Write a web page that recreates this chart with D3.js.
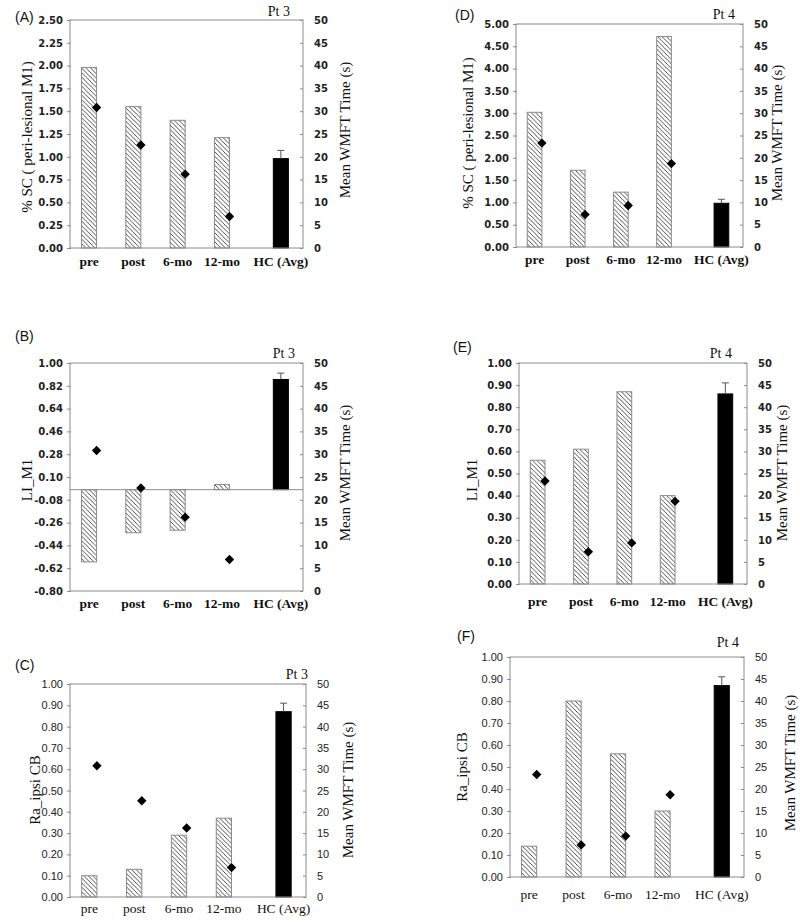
<!DOCTYPE html>
<html>
<head>
<meta charset="utf-8">
<script src="https://cdn.jsdelivr.net/npm/d3@7"></script>
<style>
  html, body { margin: 0; padding: 0; background: #fff; }
  svg { display: block; }
</style>
</head>
<body>
<svg id="chart" width="800" height="924"></svg>
<script>
// ---------------- DATA ----------------
const categories = ["pre", "post", "6-mo", "12-mo", "HC (Avg)"];

// Mean WMFT time (s) per patient (diamonds, right axis)
const wmftPt3 = [30.8, 22.6, 16.2, 6.9];
const wmftPt4 = [23.3, 7.3, 9.3, 18.7];

// Bar values (pre, post, 6-mo, 12-mo, HC avg)
const scPt3 = [1.98, 1.55, 1.40, 1.21, 0.98];
const scPt4 = [3.02, 1.72, 1.23, 4.72, 0.98];
const liPt3 = [-0.57, -0.34, -0.32, 0.04, 0.87];
const liPt4 = [0.56, 0.61, 0.87, 0.40, 0.86];
const raPt3 = [0.10, 0.13, 0.29, 0.37, 0.87];
const raPt4 = [0.14, 0.80, 0.56, 0.30, 0.87];

// HC (Avg) error bar (+SD) for each measure
const hcErrSC = 0.09;
const hcErrLI = 0.05;
const hcErrRa = 0.04;

// Tick labels
const ticksSC3 = ["0.00","0.25","0.50","0.75","1.00","1.25","1.50","1.75","2.00","2.25","2.50"];
const ticksSC4 = ["0.00","0.50","1.00","1.50","2.00","2.50","3.00","3.50","4.00","4.50","5.00"];
const ticksLI3 = ["-0.80","-0.62","-0.44","-0.26","-0.08","0.10","0.28","0.46","0.64","0.82","1.00"];
const ticksUnit = ["0.00","0.10","0.20","0.30","0.40","0.50","0.60","0.70","0.80","0.90","1.00"];
const ticksWMFT = [0, 5, 10, 15, 20, 25, 30, 35, 40, 45, 50];

// ---------------- PANELS (layout) ----------------
const panels = [
  { letter: "(A)", pt: "Pt 3", bars: scPt3, wmft: wmftPt3, err: hcErrSC, ticks: ticksSC3, dom: [0, 2.5],
    ylab: "% SC ( peri-lesional M1)", left: 70, right: 303, top: 20, bottom: 248,
    letterPos: [15, 22], ptPos: [290, 16], ylabPos: [27, 137], rlabPos: [345, 130], xlabY: 266, narrow: false },
  { letter: "(D)", pt: "Pt 4", bars: scPt4, wmft: wmftPt4, err: hcErrSC, ticks: ticksSC4, dom: [0, 5],
    ylab: "% SC ( peri-lesional M1)", left: 516, right: 743, top: 24, bottom: 247,
    letterPos: [455, 20], ptPos: [735, 19], ylabPos: [468, 133], rlabPos: [777, 133], xlabY: 264, narrow: false },
  { letter: "(B)", pt: "Pt 3", bars: liPt3, wmft: wmftPt3, err: hcErrLI, ticks: ticksLI3, dom: [-0.8, 1.0],
    ylab: "LI_M1", left: 70, right: 303, top: 363, bottom: 591,
    letterPos: [15, 341], ptPos: [295, 358], ylabPos: [27, 480], rlabPos: [345, 473], xlabY: 608, narrow: false, zeroLine: true },
  { letter: "(E)", pt: "Pt 4", bars: liPt4, wmft: wmftPt4, err: hcErrLI, ticks: ticksUnit, dom: [0, 1],
    ylab: "LI_M1", left: 519, right: 747, top: 363, bottom: 584,
    letterPos: [453, 352], ptPos: [732, 358], ylabPos: [472, 480], rlabPos: [782, 473], xlabY: 606, narrow: false },
  { letter: "(C)", pt: "Pt 3", bars: raPt3, wmft: wmftPt3, err: hcErrRa, ticks: ticksUnit, dom: [0, 1],
    ylab: "Ra_ipsi CB", left: 70, right: 306, top: 684, bottom: 897,
    letterPos: [15, 670], ptPos: [308, 679], ylabPos: [35, 790], rlabPos: [348, 790], xlabY: 913, narrow: true },
  { letter: "(F)", pt: "Pt 4", bars: raPt4, wmft: wmftPt4, err: hcErrRa, ticks: ticksUnit, dom: [0, 1],
    ylab: "Ra_ipsi CB", left: 510, right: 744, top: 657, bottom: 877,
    letterPos: [457, 641], ptPos: [739, 647], ylabPos: [462, 767], rlabPos: [790, 763], xlabY: 899, narrow: true }
];

// slot positions along x (HC group set apart)
const slotIndex = [0, 1, 2, 3, 4.33];
const xDomain = [-0.43, 4.83];
const barFrac = 0.34;

const svg = d3.select("#chart");
const defs = svg.append("defs");
const pat = defs.append("pattern")
  .attr("id", "hatch").attr("patternUnits", "userSpaceOnUse")
  .attr("width", 4.5).attr("height", 4.5);
pat.append("rect").attr("width", 4.5).attr("height", 4.5).attr("fill", "#fff");
pat.append("path")
  .attr("d", "M-1,-1 L5.5,5.5 M-1,3.5 L1,5.5 M3.5,-1 L5.5,1")
  .attr("stroke", "#3a3a3a").attr("stroke-width", 0.9);

const frameColor = "#8c8c8c";
const serif = "'Liberation Serif', 'Times New Roman', serif";

panels.forEach(p => {
  const g = svg.append("g");
  const x = d3.scaleLinear().domain(xDomain).range([p.left, p.right]);
  const step = x(1) - x(0);
  const bw = step * barFrac;
  const y = d3.scaleLinear().domain(p.dom).range([p.bottom, p.top]);
  const y2 = d3.scaleLinear().domain([0, 50]).range([p.bottom, p.top]);
  const base = p.dom[0] < 0 ? 0 : p.dom[0];

  const tickFont = p.narrow ? "'Liberation Sans Narrow', 'Arial Narrow', sans-serif" : "'DejaVu Sans', Verdana, sans-serif";
  const tickSize = p.narrow ? 11 : 10;
  const tickWeight = p.narrow ? "normal" : "bold";

  // bars
  const barData = p.bars.map((v, i) => ({ v, i, cat: categories[i] }));
  g.selectAll("rect.bar").data(barData).join("rect")
    .attr("class", "bar")
    .attr("x", d => x(slotIndex[d.i]) - bw / 2)
    .attr("width", bw)
    .attr("y", d => y(Math.max(d.v, base)))
    .attr("height", d => Math.abs(y(d.v) - y(base)))
    .attr("fill", d => d.i === 4 ? "#000" : "url(#hatch)")
    .attr("stroke", d => d.i === 4 ? "#000" : "#8a8a8a")
    .attr("stroke-width", 1);

  // error bar on HC
  const hc = p.bars[4];
  const cx = x(slotIndex[4]);
  g.append("line").attr("x1", cx).attr("x2", cx)
    .attr("y1", y(hc)).attr("y2", y(hc + p.err))
    .attr("stroke", "#555").attr("stroke-width", 1);
  g.append("line").attr("x1", cx - 3.5).attr("x2", cx + 3.5)
    .attr("y1", y(hc + p.err)).attr("y2", y(hc + p.err))
    .attr("stroke", "#555").attr("stroke-width", 1);

  // frame
  g.append("rect").attr("x", p.left).attr("y", p.top)
    .attr("width", p.right - p.left).attr("height", p.bottom - p.top)
    .attr("fill", "none").attr("stroke", frameColor).attr("stroke-width", 1);
  if (p.zeroLine) {
    g.append("line").attr("x1", p.left).attr("x2", p.right)
      .attr("y1", y(0)).attr("y2", y(0))
      .attr("stroke", frameColor).attr("stroke-width", 1);
  }

  // left axis
  const leftAxis = d3.axisLeft(y)
    .tickValues(p.ticks.map(Number))
    .tickFormat((d, i) => p.ticks[i])
    .tickSizeInner(3).tickSizeOuter(0).tickPadding(4);
  const la = g.append("g").attr("transform", `translate(${p.left},0)`).call(leftAxis);
  la.select(".domain").remove();
  la.selectAll("line").attr("stroke", frameColor).attr("x2", -3).attr("x1", 1);
  la.selectAll("text").attr("font-family", tickFont).attr("font-size", tickSize)
    .attr("font-weight", tickWeight).attr("fill", "#222");

  // right axis
  const rightAxis = d3.axisRight(y2).tickValues(ticksWMFT)
    .tickSizeInner(-3).tickSizeOuter(0).tickPadding(11);
  const ra = g.append("g").attr("transform", `translate(${p.right},0)`).call(rightAxis);
  ra.select(".domain").remove();
  ra.selectAll("line").attr("stroke", frameColor);
  ra.selectAll("text").attr("font-family", tickFont).attr("font-size", tickSize)
    .attr("font-weight", tickWeight).attr("fill", "#222");

  // diamonds
  g.selectAll("path.dia").data(p.wmft).join("path")
    .attr("class", "dia")
    .attr("d", d3.symbol(d3.symbolSquare, 44)())
    .attr("transform", (d, i) => `translate(${x(slotIndex[i]) + bw / 2},${y2(d)}) rotate(45)`)
    .attr("fill", "#000");

  // category labels
  g.selectAll("text.cat").data(categories).join("text")
    .attr("class", "cat")
    .attr("x", (d, i) => x(slotIndex[i]))
    .attr("y", p.xlabY)
    .attr("text-anchor", "middle")
    .attr("font-family", serif).attr("font-size", 13.5).attr("font-weight", p.narrow ? "normal" : "bold")
    .attr("fill", "#111")
    .text(d => d);

  // panel letter
  g.append("text").attr("x", p.letterPos[0]).attr("y", p.letterPos[1])
    .attr("font-family", "'Liberation Sans', Arial, sans-serif").attr("font-size", 14)
    .attr("fill", "#111").text(p.letter);

  // patient label
  g.append("text").attr("x", p.ptPos[0]).attr("y", p.ptPos[1])
    .attr("text-anchor", "end")
    .attr("font-family", serif).attr("font-size", 14).attr("fill", "#111").text(p.pt);

  // axis titles
  g.append("text")
    .attr("transform", `translate(${p.ylabPos[0]},${p.ylabPos[1]}) rotate(-90)`)
    .attr("text-anchor", "middle").attr("dy", "0.35em")
    .attr("font-family", serif).attr("font-size", 15).attr("fill", "#111")
    .text(p.ylab);
  g.append("text")
    .attr("transform", `translate(${p.rlabPos[0]},${p.rlabPos[1]}) rotate(-90)`)
    .attr("text-anchor", "middle").attr("dy", "0.35em")
    .attr("font-family", serif).attr("font-size", 15).attr("fill", "#111")
    .text("Mean WMFT Time (s)");
});
</script>
</body>
</html>
